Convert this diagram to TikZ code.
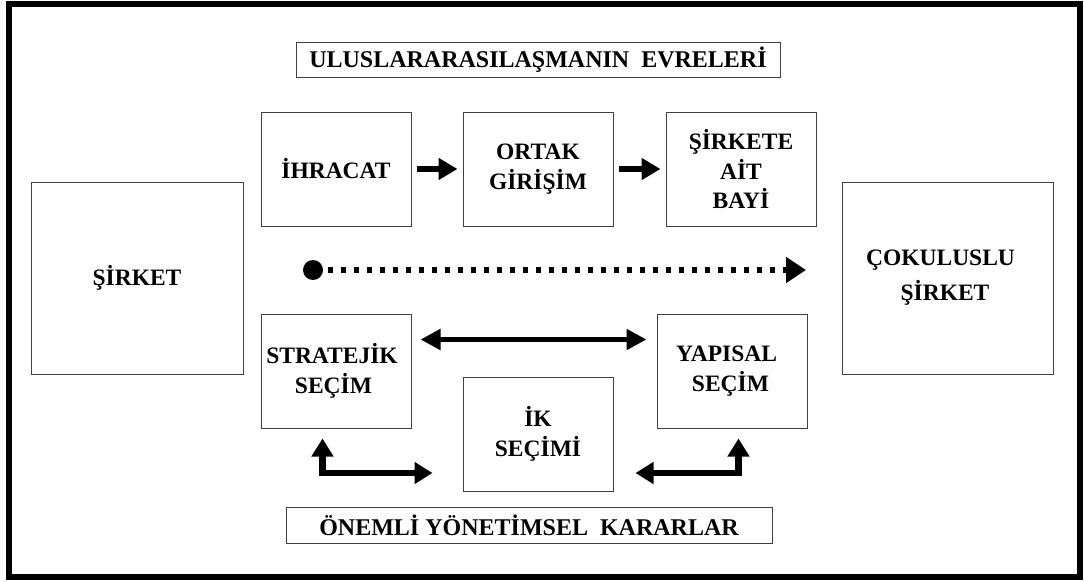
\documentclass[tikz,border=0pt]{standalone}
\usepackage{fontspec}
\setmainfont{Liberation Serif}
\usetikzlibrary{arrows.meta}
\begin{document}
\begin{tikzpicture}[x=1pt,y=-1pt,
  box/.style={draw=black!75, line width=1pt, align=center, inner sep=0pt,
    font=\fontsize{23.5}{29.5}\selectfont\bfseries},
  hdr/.style={draw=black!75, line width=1pt, inner sep=0pt,
    font=\fontsize{24}{29}\selectfont\bfseries},
  phase/.style={box, minimum width=150pt, minimum height=114pt},
  bigbox/.style={box, minimum height=192pt},
  fwdarrow/.style={line width=6.5pt, shorten <=5pt, shorten >=5pt,
    -{Triangle[length=19pt,width=21pt]}},
  dblarrow/.style={line width=5pt,
    {Triangle[length=20pt,width=20pt]}-{Triangle[length=20pt,width=20pt]}},
  larrow/.style={line width=6.5pt, line join=miter,
    {Triangle[length=18pt,width=21pt]}-{Triangle[length=18pt,width=21pt]}},
  dotline/.style={line width=5.7pt, dash pattern=on 5.5pt off 7.5pt, dash phase=8.6pt,
    -{Triangle[length=20pt,width=25pt]}}
]
\useasboundingbox (0,0) rectangle (1084,581);
\draw[line width=6pt] (8.5,4) rectangle (1080,576.5);

\node[hdr, minimum width=484pt, minimum height=35pt] (title) at (538,59.5)
  {ULUSLARARASILAŞMANIN~ EVRELERİ};
\node[hdr, minimum width=486pt, minimum height=36pt] (karar) at (529,525)
  {ÖNEMLİ YÖNETİMSEL~ KARARLAR};

\node[phase] (ihr) at (336,169) {İHRACAT};
\node[phase] (ort) at (538,169) {ORTAK\\GİRİŞİM};
\node[phase] (bayi) at (741,169) {ŞİRKETE\\AİT\\BAYİ};

\node[bigbox, minimum width=212pt] (sirket) at (137,278) {ŞİRKET};
\node[bigbox, minimum width=211pt] (cok) at (947.5,278)
  {ÇOKULUSLU\kern14pt\\[5.5pt]ŞİRKET\kern5pt};

\node[phase] (strat) at (336,371) {STRATEJİK\kern8pt\\SEÇİM\kern5pt};
\node[phase] (yap) at (732,371) {YAPISAL\kern11pt\\SEÇİM\kern3pt};
\node[phase] (ik) at (538,434) {İK\\SEÇİMİ};

\draw[fwdarrow] (ihr) -- (ort);
\draw[fwdarrow] (ort) -- (bayi);

\node[circle, fill=black, minimum size=20pt, inner sep=0pt] (dot) at (313,270) {};
\coordinate (dotend) at (806,270);
\draw[dotline] (dot) -- (dotend);

\draw[dblarrow] ([xshift=9pt,yshift=-26pt]strat.north east) -- ([xshift=-10pt,yshift=-26pt]yap.north west);

\draw[larrow] ([xshift=62pt,yshift=-10pt]strat.south west) |- ([xshift=-30pt,yshift=-39pt]ik.west);
\draw[larrow] ([xshift=22pt,yshift=-39pt]ik.east) -| ([xshift=-69pt,yshift=-10pt]yap.south east);
\end{tikzpicture}
\end{document}
